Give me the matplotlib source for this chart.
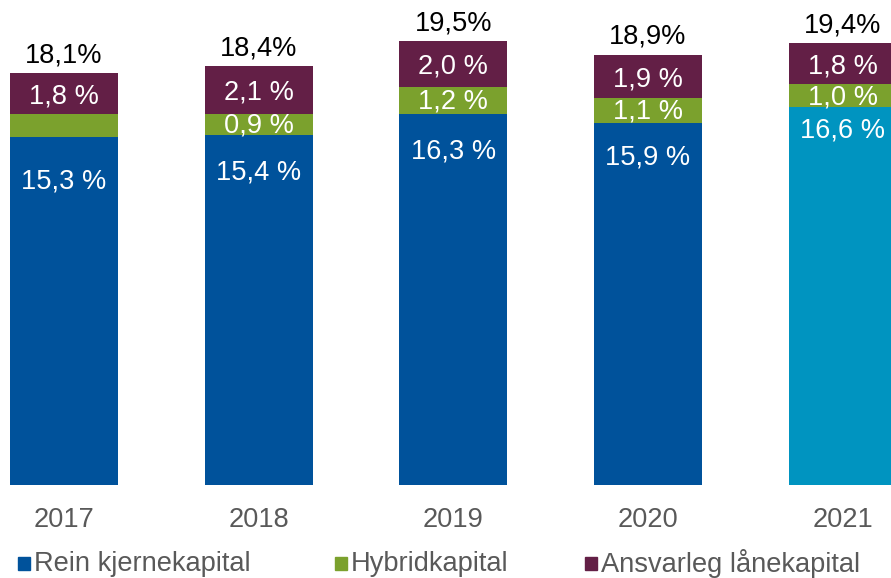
import matplotlib.pyplot as plt
from matplotlib.patches import Rectangle

plt.rcParams['font.family'] = ['Liberation Sans', 'DejaVu Sans']

years = ['2017', '2018', '2019', '2020', '2021']
rein_kjernekapital = [15.3, 15.4, 16.3, 15.9, 16.6]
hybridkapital = [1.0, 0.9, 1.2, 1.1, 1.0]
ansvarleg_lanekapital = [1.8, 2.1, 2.0, 1.9, 1.8]
totals = [18.1, 18.4, 19.5, 18.9, 19.4]
show_hybrid_label = [False, True, True, True, True]

blue = '#00529B'
blue_last = '#0094C0'
green = '#7BA12D'
purple = '#631F46'
grey = '#595959'
fs = 19.6

# how far below the top of the blue segment its label sits (points)
blue_label_drop = [32, 27, 27, 25, 17]

fig = plt.figure(figsize=(8.91, 5.78), dpi=100)
ax = fig.add_axes([0, 93 / 578, 1, 485 / 578])

x = list(range(len(years)))
w = 0.555
blue_colors = [blue] * (len(years) - 1) + [blue_last]
bottom2 = rein_kjernekapital
bottom3 = [a + b for a, b in zip(rein_kjernekapital, hybridkapital)]

ax.bar(x, rein_kjernekapital, w, color=blue_colors)
ax.bar(x, hybridkapital, w, bottom=bottom2, color=green)
ax.bar(x, ansvarleg_lanekapital, w, bottom=bottom3, color=purple)

for i in x:
    ax.annotate(f'{rein_kjernekapital[i]:.1f} %'.replace('.', ','),
                (i, rein_kjernekapital[i]), xytext=(0, -blue_label_drop[i]),
                textcoords='offset points', ha='center', va='center',
                color='white', fontsize=fs)
    if show_hybrid_label[i]:
        ax.annotate(f'{hybridkapital[i]:.1f} %'.replace('.', ','),
                    (i, bottom2[i] + hybridkapital[i] / 2), xytext=(0, -1),
                    textcoords='offset points', ha='center', va='center',
                    color='white', fontsize=fs)
    ax.annotate(f'{ansvarleg_lanekapital[i]:.1f} %'.replace('.', ','),
                (i, bottom3[i] + ansvarleg_lanekapital[i] / 2), xytext=(0, -2),
                textcoords='offset points', ha='center', va='center',
                color='white', fontsize=fs)
    ax.annotate(f'{totals[i]:.1f}%'.replace('.', ','),
                (i, bottom3[i] + ansvarleg_lanekapital[i]), xytext=(0, 13),
                textcoords='offset points', ha='center', va='center',
                color='black', fontsize=fs)

ax.set_xlim(-0.329, 4.248)
ax.set_ylim(0, 21.31)
ax.set_xticks(x)
ax.set_xticklabels(years)
ax.tick_params(axis='x', length=0, pad=16, labelsize=fs, labelcolor=grey)
ax.set_yticks([])
for s in ax.spines.values():
    s.set_visible(False)

# legend drawn by hand
legend_items = [('Rein kjernekapital', blue, 18),
                ('Hybridkapital', green, 335),
                ('Ansvarleg lånekapital', purple, 585)]
for label, col, px in legend_items:
    fig.patches.append(Rectangle((px / 891, (578 - 570) / 578), 12 / 891, 13 / 578,
                                 transform=fig.transFigure, color=col))
    fig.text((px + 16) / 891, (578 - 564) / 578, label, fontsize=fs,
             color=grey, va='center', ha='left')

fig.savefig('out.png', dpi=100)
